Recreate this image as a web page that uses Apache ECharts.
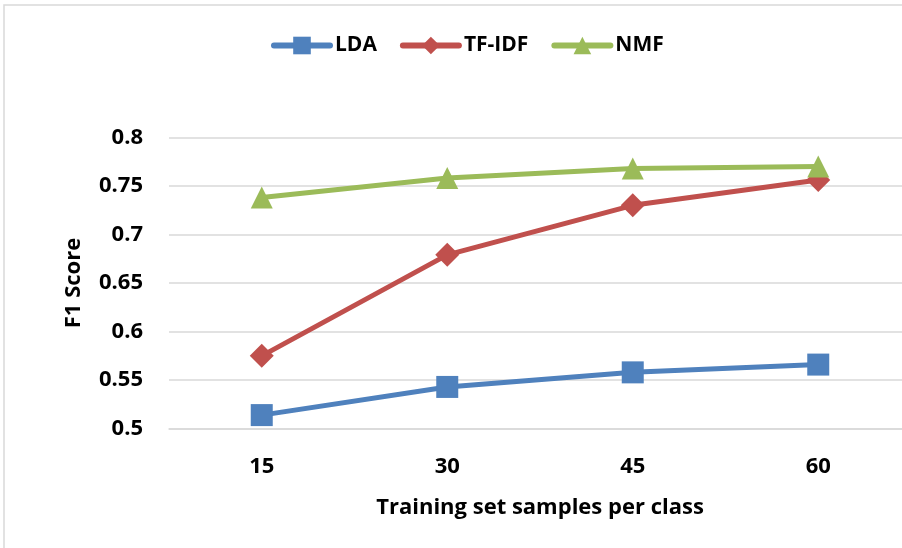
<!DOCTYPE html>
<html>
<head>
<meta charset="utf-8">
<script src="https://cdn.jsdelivr.net/npm/echarts@6/dist/echarts.min.js"></script>
<style>
  html, body { margin: 0; padding: 0; background: #fff; overflow: hidden; }
  /* the plot runs a few pixels past the right edge of the window */
  #chart { width: 911px; height: 548px; }
</style>
</head>
<body>
<div id="chart"></div>
<script>
// Training-set sizes (samples per class) on the x axis
const categories = ['15', '30', '45', '60'];

// F1 scores per method
const ldaScores   = [0.514, 0.543, 0.558, 0.566];
const tfidfScores = [0.575, 0.679, 0.730, 0.756];
const nmfScores   = [0.738, 0.758, 0.768, 0.770];

const FONT = 'Open Sans';

const chart = echarts.init(document.getElementById('chart'));

function lineSeries(name, data, color, symbol, size) {
  return {
    name: name,
    type: 'line',
    data: data,
    symbol: symbol,
    symbolSize: size,
    showAllSymbol: true,
    lineStyle: { color: color, width: 5, cap: 'round' },
    itemStyle: { color: color },
    emphasis: { disabled: true },
    z: 3
  };
}

chart.setOption({
  animation: false,
  backgroundColor: '#ffffff',
  textStyle: { fontFamily: FONT },
  graphic: [{
    type: 'rect',
    shape: { x: 4, y: 5, width: 1000, height: 1000 },
    style: { fill: 'none', stroke: '#D9D9D9', lineWidth: 1.5 },
    silent: true,
    z: -1
  }],
  legend: {
    top: 30,
    left: 266,
    itemWidth: 56,
    itemHeight: 22,
    itemGap: 23,
    lineStyle: { width: 6, cap: 'round' },
    textStyle: { fontFamily: FONT, fontWeight: 'bold', fontSize: 21, color: '#000' },
    data: ['LDA', 'TF-IDF', 'NMF']
  },
  grid: { left: 169, right: 0, top: 137.3, bottom: 119.3 },
  xAxis: {
    type: 'category',
    data: categories,
    boundaryGap: true,
    axisLine: { lineStyle: { color: '#D9D9D9', width: 1.5 } },
    axisTick: { show: false },
    axisLabel: { margin: 27, fontFamily: FONT, fontWeight: 'bold', fontSize: 22, color: '#000' },
    name: 'Training set samples per class',
    nameLocation: 'middle',
    nameGap: 68,
    nameTextStyle: { fontFamily: FONT, fontWeight: 'bold', fontSize: 22, color: '#000' }
  },
  yAxis: {
    type: 'value',
    min: 0.5,
    max: 0.8,
    interval: 0.05,
    axisLine: { show: false },
    axisTick: { show: false },
    splitLine: { lineStyle: { color: '#D9D9D9', width: 1.5 } },
    axisLabel: { margin: 26, fontFamily: FONT, fontWeight: 'bold', fontSize: 22, color: '#000',
                 formatter: v => String(+v.toFixed(2)) },
    name: 'F1 Score',
    nameLocation: 'middle',
    nameGap: 84,
    nameRotate: 90,
    nameTextStyle: { fontFamily: FONT, fontWeight: 'bold', fontSize: 22, color: '#000' }
  },
  series: [
    lineSeries('LDA', ldaScores, '#4F81BD', 'rect', 22),
    lineSeries('TF-IDF', tfidfScores, '#C0504D', 'diamond', 24),
    lineSeries('NMF', nmfScores, '#9BBB59', 'triangle', 22)
  ]
});
</script>
</body>
</html>
